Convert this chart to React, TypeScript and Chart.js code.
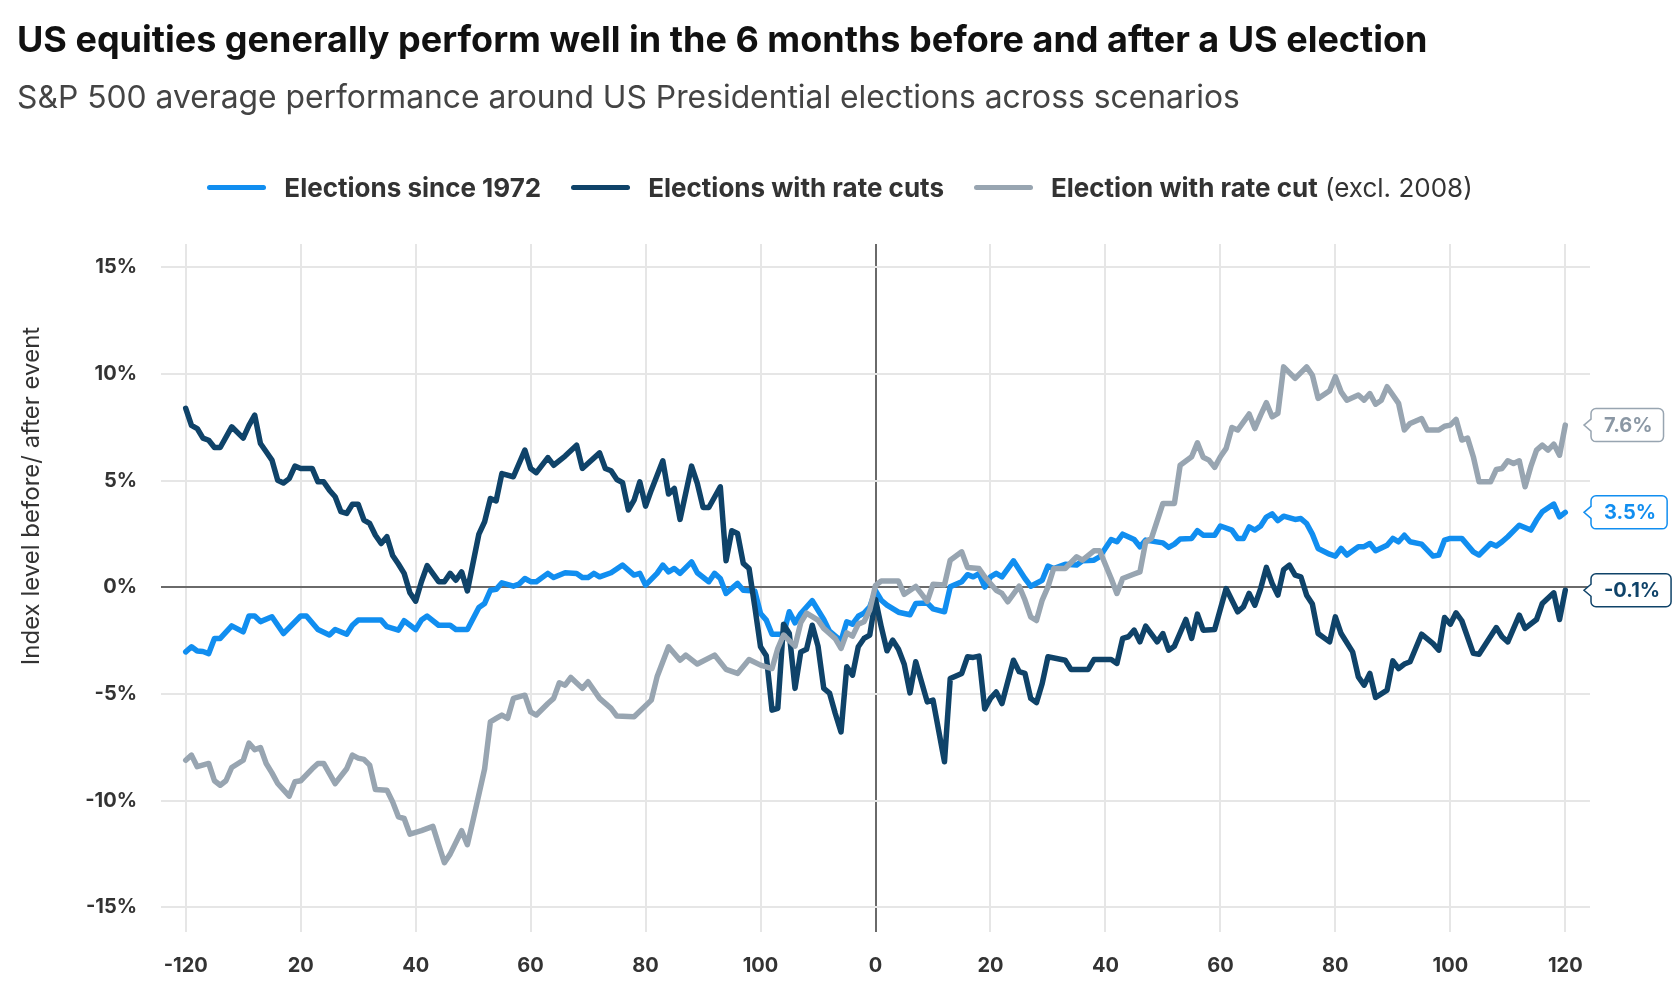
import React, { useEffect, useRef } from "react";
import { Chart, registerables } from "chart.js";

Chart.register(...registerables);

const FONT = "Inter, 'Noto Sans', sans-serif";

const TITLE = "US equities generally perform well in the 6 months before and after a US election";
const SUBTITLE = "S&P 500 average performance around US Presidential elections across scenarios";
const Y_TITLE = "Index level before/ after event";

const xTickValues = [-120, -100, -80, -60, -40, -20, 0, 20, 40, 60, 80, 100, 120];
const xTickLabels = ["-120", "20", "40", "60", "80", "100", "0", "20", "40", "60", "80", "100", "120"];
const yTickValues = [-15, -10, -5, 0, 5, 10, 15];

const seriesNames = ["Elections since 1972", "Elections with rate cuts", "Election with rate cut"];
const seriesColors = ["#118ef0", "#0f4369", "#98a5b1"];
const tagTextColors = ["#118ef0", "#0f4369", "#8a97a4"];

// [trading day relative to election, % change]
const since1972: [number, number][] = [
  [-120,-3.02],[-119,-2.78],[-118,-2.98],[-117,-3.0],[-116,-3.1],[-115,-2.39],[-114,-2.39],[-112,-1.8],[-110,-2.08],[-109,-1.34],[-108,-1.34],[-107,-1.6],[-105,-1.37],[-103,-2.16],[-100,-1.34],[-99,-1.34],[-97,-1.97],[-95,-2.23],[-94,-1.97],[-92,-2.19],[-91,-1.77],[-90,-1.53],[-86,-1.53],[-85,-1.84],[-83,-2.0],[-82,-1.56],[-80,-1.97],[-79,-1.53],[-78,-1.34],[-76,-1.77],[-74,-1.77],[-73,-1.97],[-71,-1.97],[-69,-0.94],[-68,-0.75],[-67,-0.13],[-66,-0.09],[-65,0.22],[-63,0.06],[-62,0.16],[-61,0.42],[-60,0.27],[-59,0.27],[-57,0.66],[-56,0.47],[-54,0.69],[-52,0.66],[-51,0.47],[-50,0.47],[-49,0.66],[-48,0.5],[-46,0.69],[-44,1.05],[-42,0.58],[-41,0.66],[-40,0.11],[-38,0.66],[-37,1.05],[-36,0.73],[-35,0.89],[-34,0.66],[-32,1.2],[-31,0.69],[-29,0.27],[-28,0.66],[-27,0.42],[-26,-0.28],[-24,0.19],[-23,-0.13],[-21,-0.16],[-20,-1.22],[-19,-1.53],[-18,-2.19],[-16,-2.19],[-15,-1.14],[-14,-1.66],[-13,-1.22],[-11,-0.62],[-9,-1.5],[-8,-2.05],[-6,-2.5],[-5,-1.61],[-4,-1.72],[-3,-1.35],[-2,-1.2],[-1,-0.91],[0,-0.15],[1,-0.6],[2,-0.83],[4,-1.16],[6,-1.28],[7,-0.75],[9,-0.73],[10,-1.0],[12,-1.14],[13,0.03],[15,0.27],[16,0.6],[17,0.5],[18,0.65],[19,0.02],[20,0.5],[21,0.66],[22,0.5],[24,1.25],[26,0.42],[27,0.06],[29,0.34],[30,1.0],[31,0.89],[33,1.09],[35,1.05],[36,1.25],[38,1.28],[39,1.44],[41,2.25],[42,2.14],[43,2.5],[45,2.25],[46,1.91],[47,2.22],[50,2.09],[51,1.88],[52,2.03],[53,2.27],[55,2.3],[56,2.66],[57,2.45],[59,2.45],[60,2.88],[62,2.69],[63,2.3],[64,2.3],[65,2.84],[66,2.69],[67,2.88],[68,3.3],[69,3.45],[70,3.13],[71,3.34],[73,3.19],[74,3.23],[75,3.0],[76,2.5],[77,1.83],[79,1.56],[80,1.47],[81,1.83],[82,1.52],[84,1.91],[85,1.91],[86,2.06],[87,1.72],[89,1.98],[90,2.3],[91,2.14],[92,2.45],[93,2.14],[95,2.03],[96,1.75],[97,1.47],[98,1.52],[99,2.22],[100,2.3],[102,2.3],[104,1.67],[105,1.52],[107,2.06],[108,1.94],[109,2.14],[110,2.38],[112,2.92],[114,2.69],[115,3.16],[116,3.55],[118,3.91],[119,3.31],[120,3.52]
];

const withRateCuts: [number, number][] = [
  [-120,8.4],[-119,7.6],[-118,7.45],[-117,7.0],[-116,6.9],[-115,6.56],[-114,6.56],[-112,7.53],[-110,7.0],[-109,7.6],[-108,8.08],[-107,6.75],[-106,6.36],[-105,5.97],[-104,5.03],[-103,4.9],[-102,5.1],[-101,5.69],[-100,5.58],[-98,5.58],[-97,4.95],[-96,4.95],[-95,4.56],[-94,4.25],[-93,3.55],[-92,3.47],[-91,3.9],[-90,3.9],[-89,3.16],[-88,3.0],[-87,2.45],[-86,2.06],[-85,2.38],[-84,1.5],[-83,1.1],[-82,0.66],[-81,-0.25],[-80,-0.64],[-79,0.27],[-78,1.02],[-76,0.27],[-75,0.27],[-74,0.66],[-73,0.34],[-72,0.73],[-71,-0.16],[-69,2.5],[-68,3.08],[-67,4.17],[-66,4.06],[-65,5.34],[-63,5.19],[-61,6.44],[-60,5.58],[-59,5.38],[-57,6.09],[-56,5.73],[-54,6.16],[-52,6.67],[-51,5.58],[-48,6.31],[-47,5.58],[-46,5.47],[-45,5.06],[-44,4.91],[-43,3.63],[-42,4.09],[-41,4.95],[-40,3.81],[-39,4.56],[-37,5.94],[-36,4.38],[-35,4.64],[-34,3.19],[-32,5.69],[-31,4.88],[-30,3.75],[-29,3.75],[-27,4.72],[-26,1.25],[-25,2.66],[-24,2.53],[-23,1.13],[-22,0.89],[-21,-0.9],[-20,-2.78],[-19,-3.2],[-18,-5.75],[-17,-5.67],[-16,-1.72],[-15,-2.16],[-14,-4.73],[-13,-3.02],[-12,-2.9],[-11,-1.77],[-10,-2.75],[-9,-4.73],[-8,-4.95],[-7,-5.91],[-6,-6.77],[-5,-3.72],[-4,-4.11],[-3,-2.78],[-2,-2.39],[-1,-2.23],[0,-0.56],[1,-1.84],[2,-2.97],[3,-2.47],[4,-2.9],[5,-3.6],[6,-4.94],[7,-3.48],[9,-5.36],[10,-5.28],[12,-8.17],[13,-4.27],[15,-4.03],[16,-3.25],[17,-3.28],[18,-3.22],[19,-5.7],[20,-5.2],[21,-4.9],[22,-5.44],[24,-3.41],[25,-3.95],[26,-4.03],[27,-5.2],[28,-5.4],[29,-4.5],[30,-3.25],[33,-3.41],[34,-3.84],[37,-3.84],[38,-3.38],[41,-3.38],[42,-3.56],[43,-2.39],[44,-2.31],[45,-2.0],[46,-2.55],[47,-1.81],[49,-2.55],[50,-2.16],[51,-2.94],[52,-2.75],[54,-1.5],[55,-2.39],[56,-1.25],[57,-2.0],[59,-1.97],[61,-0.05],[63,-1.14],[64,-0.91],[65,-0.28],[66,-0.83],[67,-0.05],[68,0.94],[69,0.19],[70,-0.36],[71,0.84],[72,1.05],[73,0.58],[74,0.5],[75,-0.36],[76,-0.78],[77,-2.16],[79,-2.55],[80,-1.38],[81,-2.16],[83,-3.02],[84,-4.19],[85,-4.58],[86,-4.03],[87,-5.16],[89,-4.81],[90,-3.44],[91,-3.8],[92,-3.59],[93,-3.48],[95,-2.19],[97,-2.63],[98,-2.94],[99,-1.41],[100,-1.72],[101,-1.19],[102,-1.56],[104,-3.09],[105,-3.13],[108,-1.88],[109,-2.31],[110,-2.55],[112,-1.3],[113,-1.92],[115,-1.5],[116,-0.75],[118,-0.25],[119,-1.5],[120,-0.13]
];

const rateCutExcl2008: [number, number][] = [
  [-120,-8.1],[-119,-7.86],[-118,-8.4],[-116,-8.25],[-115,-9.06],[-114,-9.27],[-113,-9.06],[-112,-8.44],[-110,-8.1],[-109,-7.3],[-108,-7.6],[-107,-7.5],[-106,-8.25],[-105,-8.69],[-104,-9.19],[-102,-9.78],[-101,-9.11],[-100,-9.06],[-98,-8.5],[-97,-8.25],[-96,-8.25],[-94,-9.19],[-92,-8.5],[-91,-7.86],[-90,-8.0],[-89,-8.06],[-88,-8.33],[-87,-9.47],[-85,-9.5],[-84,-10.05],[-83,-10.75],[-82,-10.83],[-81,-11.56],[-79,-11.4],[-77,-11.2],[-76,-12.06],[-75,-12.9],[-74,-12.5],[-72,-11.4],[-71,-12.06],[-70,-10.9],[-68,-8.5],[-67,-6.3],[-66,-6.14],[-65,-5.98],[-64,-6.14],[-63,-5.2],[-61,-5.05],[-60,-5.83],[-59,-5.98],[-57,-5.44],[-56,-5.2],[-55,-4.47],[-54,-4.58],[-53,-4.22],[-51,-4.73],[-50,-4.42],[-48,-5.2],[-46,-5.67],[-45,-6.03],[-42,-6.06],[-39,-5.28],[-38,-4.19],[-36,-2.78],[-34,-3.41],[-33,-3.17],[-31,-3.59],[-28,-3.17],[-26,-3.84],[-24,-4.03],[-22,-3.38],[-20,-3.64],[-18,-3.8],[-17,-2.86],[-16,-2.23],[-14,-2.75],[-13,-1.65],[-12,-1.2],[-10,-1.53],[-9,-1.92],[-8,-2.16],[-7,-2.4],[-6,-2.86],[-5,-2.13],[-4,-2.28],[-3,-1.72],[-2,-1.61],[-1,-1.06],[0,0.1],[1,0.3],[4,0.3],[5,-0.32],[7,0.05],[9,-0.65],[10,0.15],[12,0.12],[13,1.28],[15,1.67],[16,0.94],[18,0.89],[19,0.5],[21,-0.13],[22,-0.28],[23,-0.67],[25,0.06],[26,-0.59],[27,-1.38],[28,-1.55],[29,-0.59],[30,0.03],[31,0.89],[33,0.89],[35,1.44],[36,1.28],[38,1.72],[39,1.72],[41,0.42],[42,-0.28],[43,0.42],[45,0.63],[46,0.73],[47,2.14],[48,2.3],[50,3.94],[52,3.94],[53,5.73],[55,6.13],[56,6.78],[57,6.1],[58,5.97],[59,5.63],[60,6.13],[61,6.52],[62,7.5],[63,7.38],[65,8.13],[66,7.45],[67,8.08],[68,8.66],[69,8.0],[70,8.16],[71,10.34],[73,9.8],[75,10.34],[76,9.95],[77,8.86],[79,9.22],[80,9.88],[81,9.17],[82,8.78],[84,9.02],[85,8.78],[86,9.09],[87,8.59],[88,8.78],[89,9.41],[91,8.63],[92,7.38],[93,7.69],[95,7.92],[96,7.38],[98,7.38],[99,7.56],[100,7.61],[101,7.88],[102,6.91],[103,7.0],[104,6.13],[105,4.95],[107,4.95],[108,5.53],[109,5.58],[110,5.94],[111,5.81],[112,5.94],[113,4.72],[114,5.66],[115,6.44],[116,6.67],[117,6.44],[118,6.72],[119,6.2],[120,7.61]
];

const seriesData = [since1972, withRateCuts, rateCutExcl2008];
const seriesOrder = [2, 1, 0];

const endTagsPlugin = {
  id: "endTags",
  afterDatasetsDraw(chart: any) {
    const { ctx, chartArea } = chart;
    const yScale = chart.scales.y;
    chart.data.datasets.forEach((ds: any, i: number) => {
      const last = ds.data[ds.data.length - 1];
      const py = yScale.getPixelForValue(last.y);
      const text = last.y.toFixed(1) + "%";
      ctx.save();
      ctx.font = `bold 20px ${FONT}`;
      const tw = ctx.measureText(text).width;
      const left = chartArea.right + 1;
      const tip = left - 7;
      const h = 33;
      const w = tw + 24;
      const top = py - h / 2;
      const r = 5;
      ctx.beginPath();
      ctx.moveTo(left + r, top);
      ctx.lineTo(left + w - r, top);
      ctx.arcTo(left + w, top, left + w, top + r, r);
      ctx.lineTo(left + w, top + h - r);
      ctx.arcTo(left + w, top + h, left + w - r, top + h, r);
      ctx.lineTo(left + r, top + h);
      ctx.arcTo(left, top + h, left, top + h - r, r);
      ctx.lineTo(left, py + 6);
      ctx.lineTo(tip, py);
      ctx.lineTo(left, py - 6);
      ctx.lineTo(left, top + r);
      ctx.arcTo(left, top, left + r, top, r);
      ctx.closePath();
      ctx.fillStyle = "#ffffff";
      ctx.fill();
      ctx.lineWidth = 1.5;
      ctx.strokeStyle = seriesColors[i];
      ctx.stroke();
      ctx.fillStyle = tagTextColors[i];
      ctx.textAlign = "center";
      ctx.textBaseline = "middle";
      ctx.fillText(text, left + w / 2 + 1, py + 1);
      ctx.restore();
    });
  },
};

const yTitlePlugin = {
  id: "yTitle",
  afterDraw(chart: any) {
    const { ctx } = chart;
    ctx.save();
    ctx.translate(32, 496);
    ctx.rotate(-Math.PI / 2);
    ctx.font = `24px ${FONT}`;
    ctx.fillStyle = "#333333";
    ctx.textAlign = "center";
    ctx.textBaseline = "middle";
    ctx.fillText(Y_TITLE, 0, 0);
    ctx.restore();
  },
};

function LegendItem({ color, label, extra }: { color: string; label: string; extra?: string }) {
  return (
    <div style={{ display: "flex", alignItems: "center", margin: "0 15px" }}>
      <span style={{ display: "inline-block", width: 59, height: 5, borderRadius: 3, background: color, marginRight: 18 }} />
      <span style={{ fontWeight: 700, whiteSpace: "nowrap" }}>
        {label}
        {extra ? <span style={{ fontWeight: 400 }}>{" " + extra}</span> : null}
      </span>
    </div>
  );
}

export default function App() {
  const canvasRef = useRef<HTMLCanvasElement | null>(null);

  useEffect(() => {
    if (!canvasRef.current) return;
    const gridColor = (c: any) => (c.tick && c.tick.value === 0 ? "#6a6a6a" : "#e6e6e6");
    const chart = new Chart(canvasRef.current, {
      type: "line",
      data: {
        datasets: seriesData.map((pts, i) => ({
          label: seriesNames[i],
          data: pts.map(([x, y]) => ({ x, y })),
          borderColor: seriesColors[i],
          backgroundColor: seriesColors[i],
          borderWidth: 5.5,
          pointRadius: 0,
          pointHoverRadius: 0,
          tension: 0,
          borderJoinStyle: "round" as const,
          borderCapStyle: "round" as const,
          fill: false,
          order: seriesOrder[i],
        })),
      },
      options: {
        animation: false,
        responsive: true,
        maintainAspectRatio: false,
        events: [],
        layout: { padding: { top: 244, right: 90, bottom: 0, left: 0 } },
        plugins: { legend: { display: false }, tooltip: { enabled: false }, title: { display: false } },
        scales: {
          x: {
            type: "linear",
            min: -124.3,
            max: 124.3,
            afterBuildTicks: (s: any) => {
              s.ticks = xTickValues.map((v) => ({ value: v }));
            },
            afterFit: (s: any) => {
              s.height = 61;
            },
            ticks: {
              autoSkip: false,
              maxRotation: 0,
              padding: 22,
              color: "#333333",
              font: { family: FONT, size: 20, weight: "bold" },
              callback: (_v: any, i: number) => xTickLabels[i],
            },
            grid: { color: gridColor, lineWidth: 2, drawTicks: false },
            border: { display: false },
          },
          y: {
            type: "linear",
            min: -16.15,
            max: 16.1,
            afterBuildTicks: (s: any) => {
              s.ticks = yTickValues.map((v) => ({ value: v }));
            },
            afterFit: (s: any) => {
              s.width = 161;
            },
            ticks: {
              padding: 24,
              color: "#333333",
              font: { family: FONT, size: 20, weight: "bold" },
              callback: (v: any) => v + "%",
            },
            grid: { color: gridColor, lineWidth: 2, drawTicks: false },
            border: { display: false },
          },
        },
      },
      plugins: [endTagsPlugin, yTitlePlugin],
    } as any);
    return () => chart.destroy();
  }, []);

  return (
    <div style={{ position: "absolute", left: 0, top: 0, width: 1680, height: 993, fontFamily: FONT, background: "#ffffff", overflow: "hidden" }}>
      <div style={{ position: "absolute", left: 0, top: 0, width: 1680, height: 993 }}>
        <canvas ref={canvasRef} />
      </div>
      <div style={{ position: "absolute", left: 17, top: 16.5, fontSize: 36, lineHeight: "44px", fontWeight: 700, color: "#111111", whiteSpace: "nowrap" }}>
        {TITLE}
      </div>
      <div style={{ position: "absolute", left: 17, top: 77.5, fontSize: 31.8, lineHeight: "38px", fontWeight: 400, color: "#444444", whiteSpace: "nowrap" }}>
        {SUBTITLE}
      </div>
      <div style={{ position: "absolute", left: 0, top: 168, width: 1680, height: 38, display: "flex", justifyContent: "center", alignItems: "center", fontSize: 26, color: "#333333" }}>
        <LegendItem color={seriesColors[0]} label={seriesNames[0]} />
        <LegendItem color={seriesColors[1]} label={seriesNames[1]} />
        <LegendItem color={seriesColors[2]} label={seriesNames[2]} extra="(excl. 2008)" />
      </div>
    </div>
  );
}
